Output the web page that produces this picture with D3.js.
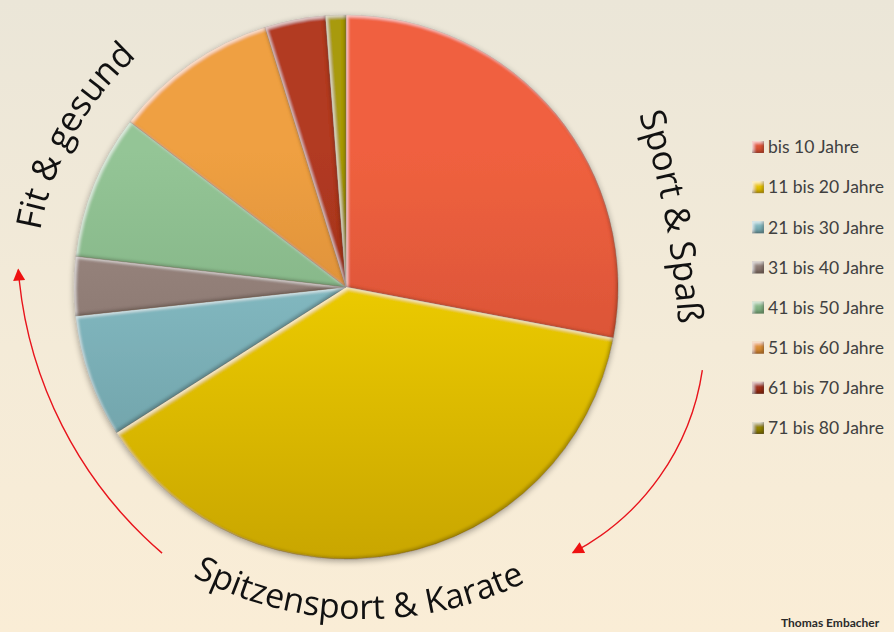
<!DOCTYPE html>
<html>
<head>
<meta charset="utf-8">
<script src="https://cdn.jsdelivr.net/npm/d3@7"></script>
<style>
  html, body { margin: 0; padding: 0; background: #f6ecd8; }
  svg { display: block; }
</style>
</head>
<body>
<div id="vis"></div>
<script>
const width = 894
const height = 632

// Altersgruppen und Anteile (in %)
const categories = ["bis 10 Jahre", "11 bis 20 Jahre", "21 bis 30 Jahre", "31 bis 40 Jahre",
                    "41 bis 50 Jahre", "51 bis 60 Jahre", "61 bis 70 Jahre", "71 bis 80 Jahre"]
const values = [28, 38, 7.3, 3.5, 8.6, 9.8, 3.6, 1.2]

const lightColors = ["#f0613f", "#fcdc00", "#8fc8d1", "#9f8c85", "#94c596", "#efa042", "#b23a21", "#a89a08"]
const darkColors  = ["#c4472f", "#c9a600", "#66969c", "#77645d", "#70a073", "#c27a2c", "#882716", "#7c6e00"]

const cx = 346, cy = 287, radius = 272

const svg = d3.select("#vis")
    .append("svg")
    .attr("width", width)
    .attr("height", height)

const defs = svg.append("defs")

// background
const bg = defs.append("linearGradient")
    .attr("id", "bg")
    .attr("x1", 0).attr("y1", 0).attr("x2", 0).attr("y2", 1)
bg.append("stop").attr("offset", "0%").attr("stop-color", "#ebe6d8")
bg.append("stop").attr("offset", "55%").attr("stop-color", "#f4ebd8")
bg.append("stop").attr("offset", "100%").attr("stop-color", "#faedd6")

svg.append("rect")
    .attr("width", width)
    .attr("height", height)
    .attr("fill", "url(#bg)")

// slice gradients (top light -> bottom dark)
categories.forEach((c, i) => {
    const g = defs.append("linearGradient")
        .attr("id", "grad" + i)
        .attr("gradientUnits", "userSpaceOnUse")
        .attr("x1", 0).attr("y1", -radius).attr("x2", 0).attr("y2", radius)
    g.append("stop").attr("offset", "0%").attr("stop-color", lightColors[i])
    g.append("stop").attr("offset", "25%").attr("stop-color", lightColors[i])
    g.append("stop").attr("offset", "100%").attr("stop-color", darkColors[i])

    const s = defs.append("linearGradient")
        .attr("id", "sw" + i)
        .attr("x1", 0).attr("y1", 0).attr("x2", 0).attr("y2", 1)
    s.append("stop").attr("offset", "0%").attr("stop-color", lightColors[i])
    s.append("stop").attr("offset", "100%").attr("stop-color", darkColors[i])
})

// bevel filter: light top-left edge, dark bottom-right edge
const bevel = defs.append("filter").attr("id", "bevel")
    .attr("x", "-5%").attr("y", "-5%").attr("width", "110%").attr("height", "110%")
bevel.append("feGaussianBlur").attr("in", "SourceAlpha").attr("stdDeviation", 1.6).attr("result", "b")
bevel.append("feOffset").attr("in", "b").attr("dx", 1.6).attr("dy", 1.8).attr("result", "o1")
bevel.append("feComposite").attr("in", "SourceAlpha").attr("in2", "o1").attr("operator", "out").attr("result", "hl")
bevel.append("feFlood").attr("flood-color", "#ffffff").attr("flood-opacity", 0.6).attr("result", "white")
bevel.append("feComposite").attr("in", "white").attr("in2", "hl").attr("operator", "in").attr("result", "hlc")
bevel.append("feOffset").attr("in", "b").attr("dx", -1.6).attr("dy", -1.8).attr("result", "o2")
bevel.append("feComposite").attr("in", "SourceAlpha").attr("in2", "o2").attr("operator", "out").attr("result", "sh")
bevel.append("feFlood").attr("flood-color", "#2a1a00").attr("flood-opacity", 0.45).attr("result", "dark")
bevel.append("feComposite").attr("in", "dark").attr("in2", "sh").attr("operator", "in").attr("result", "shc")
const bm = bevel.append("feMerge")
bm.append("feMergeNode").attr("in", "SourceGraphic")
bm.append("feMergeNode").attr("in", "hlc")
bm.append("feMergeNode").attr("in", "shc")

// soft shadow around the pie
const shadow = defs.append("filter").attr("id", "shadow")
    .attr("x", "-10%").attr("y", "-10%").attr("width", "120%").attr("height", "120%")
shadow.append("feGaussianBlur").attr("in", "SourceAlpha").attr("stdDeviation", 3).attr("result", "blur")
shadow.append("feOffset").attr("in", "blur").attr("dx", 0).attr("dy", 2).attr("result", "off")
shadow.append("feComponentTransfer").attr("in", "off").attr("result", "soft")
    .append("feFuncA").attr("type", "linear").attr("slope", 0.35)
const sm = shadow.append("feMerge")
sm.append("feMergeNode").attr("in", "soft")
sm.append("feMergeNode").attr("in", "SourceGraphic")

// arrow marker
defs.append("marker")
    .attr("id", "arrow")
    .attr("markerUnits", "userSpaceOnUse")
    .attr("viewBox", "0 0 10 10")
    .attr("refX", 9).attr("refY", 5)
    .attr("markerWidth", 13).attr("markerHeight", 12)
    .attr("orient", "auto")
  .append("path")
    .attr("d", "M0,0 L10,5 L0,10 z")
    .attr("fill", "#ee1111")

// pie
const pie = d3.pie().sort(null).value(d => d)
const arc = d3.arc().innerRadius(0).outerRadius(radius)

const pieG = svg.append("g")
    .attr("transform", `translate(${cx}, ${cy})`)
    .attr("filter", "url(#shadow)")

pieG.selectAll("path.slice")
    .data(pie(values))
    .join("path")
        .attr("class", "slice")
        .attr("d", arc)
        .attr("fill", (d, i) => `url(#grad${i})`)
        .attr("stroke", "rgba(80,50,20,0.35)")
        .attr("stroke-width", 0.6)
        .attr("filter", "url(#bevel)")

// curved labels
function arcPath(ox, oy, r, midDeg, spanDeg, clockwise) {
    const toRad = a => (a - 90) * Math.PI / 180
    const p = d3.path()
    if (clockwise) {
        p.arc(ox, oy, r, toRad(midDeg - spanDeg), toRad(midDeg + spanDeg), false)
    } else {
        p.arc(ox, oy, r, toRad(midDeg + spanDeg), toRad(midDeg - spanDeg), true)
    }
    return p.toString()
}

const curvedLabels = [
    {id: "lab1", text: "Fit & gesund", ox: 345, oy: 286, r: 310, mid: 299, span: 90, cw: true, size: 35},
    {id: "lab2", text: "Sport & Spaß", ox: -200, oy: 380, r: 880, mid: 79.4, span: 25, cw: true, size: 35},
    {id: "lab3", text: "Spitzensport & Karate", ox: 365, oy: 251, r: 368, mid: 181, span: 70, cw: false, size: 34}
]

curvedLabels.forEach(l => {
    defs.append("path")
        .attr("id", l.id)
        .attr("d", arcPath(l.ox, l.oy, l.r, l.mid, l.span, l.cw))
    svg.append("text")
        .attr("font-family", "'Open Sans', sans-serif")
        .attr("font-size", l.size)
        .attr("fill", "#111")
      .append("textPath")
        .attr("href", "#" + l.id)
        .attr("startOffset", "50%")
        .attr("text-anchor", "middle")
        .text(l.text)
})

// red arrows
const arrows = [
    {ox: 434, oy: 237, r: 417, a0: 130.7, a1: 175.5},
    {ox: 458, oy: 334, r: 247, a0: 8.4, a1: 62.3}
]
arrows.forEach(a => {
    const p = d3.path()
    p.arc(a.ox, a.oy, a.r, a.a0 * Math.PI / 180, a.a1 * Math.PI / 180, false)
    svg.append("path")
        .attr("d", p.toString())
        .attr("fill", "none")
        .attr("stroke", "#e8141c")
        .attr("stroke-width", 1.4)
        .attr("marker-end", "url(#arrow)")
})

// legend
const legendY = d3.scalePoint()
    .domain(categories)
    .range([147, 428])

const legend = svg.append("g")

legend.selectAll("rect.legend-swatch")
    .data(categories)
    .join("rect")
        .attr("class", "legend-swatch")
        .attr("x", 752)
        .attr("y", d => legendY(d) - 6)
        .attr("width", 12)
        .attr("height", 12)
        .attr("fill", (d, i) => `url(#sw${i})`)
        .attr("filter", "url(#bevel)")

legend.selectAll("text.legend-label")
    .data(categories)
    .join("text")
        .attr("class", "legend-label")
        .attr("x", 768)
        .attr("y", d => legendY(d))
        .attr("dy", "0.36em")
        .attr("font-family", "Lato, Carlito, sans-serif")
        .attr("font-size", 17.5)
        .attr("fill", "#404040")
        .text(d => d)

svg.append("text")
    .attr("x", 781)
    .attr("y", 627)
    .attr("font-family", "Lato, sans-serif")
    .attr("font-weight", "bold")
    .attr("font-size", 12)
    .attr("fill", "#2a2a2a")
    .text("Thomas Embacher")
</script>
</body>
</html>
